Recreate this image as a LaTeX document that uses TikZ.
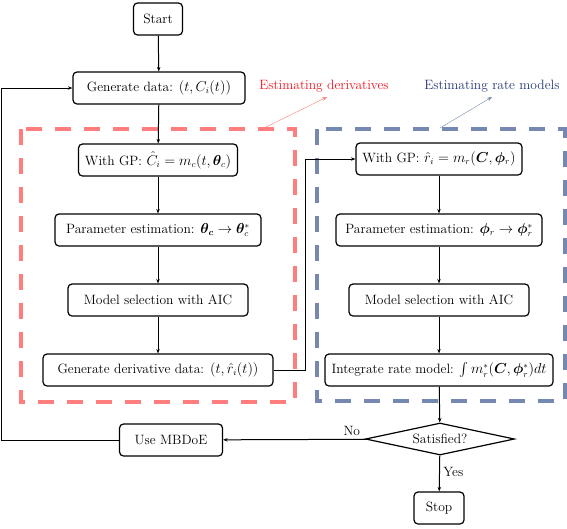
\documentclass[tikz,border=0pt]{standalone}
\usepackage{amsmath}
\usepackage{amsfonts}
\usepackage{amssymb}
\usepackage{bm}
\usepackage{tikz}
\usetikzlibrary {arrows.meta}
\usetikzlibrary{shapes.geometric}

\definecolor{derivred}{RGB}{255,125,125}
\definecolor{derivtext}{RGB}{250,20,30}
\definecolor{rateblue}{RGB}{118,135,178}
\definecolor{ratetext}{RGB}{35,55,115}

\begin{document}
\begin{tikzpicture}[x=1pt, y=-1pt, font=\fontsize{13.5}{15}\selectfont,
	proc/.style={draw, line width=1.2pt, rounded corners=4pt, inner sep=0pt, minimum height=32pt},
	arr/.style={-{Stealth[length=4.5pt, width=3.5pt]}, line width=1pt},
	groupbox/.style={line width=4pt, dash pattern=on 16pt off 13pt}]
	\useasboundingbox (0, 0) rectangle (567, 528);

	% dashed groups
	\draw[groupbox, derivred] (21, 129) rectangle (295, 402);
	\draw[groupbox, rateblue] (317, 129) rectangle (565, 401);

	\node[derivtext] (lblc) at (324, 86) {Estimating derivatives};
	\node[ratetext] (lblr) at (492, 86) {Estimating rate models};
	\coordinate (cfoot) at (262, 129);
	\coordinate (rfoot) at (440, 128);
	\draw[-{Stealth[length=5pt]}, derivred] (cfoot) -- (327, 97);
	\draw[-{Stealth[length=5pt]}, rateblue] (rfoot) -- (492, 97);

	% main column
	\node[proc, minimum width=49pt] (start) at (158, 19) {Start};
	\node[proc, minimum width=172pt] (gendata) at (159, 88) {Generate data: $(t, C_i(t))$};

	% left group
	\node[proc, minimum width=159pt] (gpc) at (158, 160) {With GP: $\hat{C}_i = m_c(t, \bm{\theta}_c)$};
	\node[proc, minimum width=206pt] (parc) at (158, 230) {Parameter estimation: $\bm{\theta_c} \rightarrow \bm{\theta}_c^*$};
	\node[proc, minimum width=180pt] (selc) at (158, 300) {Model selection with AIC};
	\node[proc, minimum width=230pt] (gend) at (158, 370) {Generate derivative data: $(t, \hat{r}_i(t))$};

	% right group
	\node[proc, minimum width=166pt] (gpr) at (439, 159) {With GP: $\hat{r}_i = m_r(\bm{C}, \bm{\phi}_r)$};
	\node[proc, minimum width=206pt] (parr) at (439, 230) {Parameter estimation: $\bm{\phi}_r \rightarrow \bm{\phi}_r^*$};
	\node[proc, minimum width=180pt] (selr) at (439, 300) {Model selection with AIC};
	\node[proc, minimum width=228pt] (integ) at (439, 370) {Integrate rate model: $\int m_r^*(\bm{C}, \bm{\phi}_r^*)dt$};

	% decision
	\node[draw, line width=1.2pt, diamond, aspect=4.6, inner sep=0pt, minimum width=149pt, minimum height=32pt] (sat) at (440, 439) {Satisfied?};
	\node[proc, minimum width=103pt] (mbdoe) at (171, 440) {Use MBDoE};
	\node[proc, minimum width=50pt] (stop) at (439, 508) {Stop};

	\draw[arr] (start) -- (gendata);
	\draw[arr] (gendata) -- (gpc);
	\draw[arr] (gpc) -- (parc);
	\draw[arr] (parc) -- (selc);
	\draw[arr] (selc) -- (gend);
	\draw[arr] (gend.east) -- ++(32, 0) |- (gpr.west);
	\draw[arr] (gpr) -- (parr);
	\draw[arr] (parr) -- (selr);
	\draw[arr] (selr) -- (integ);
	\draw[arr] (integ) -- (sat);
	\draw[arr] (sat) -- node[right, pos=0.45] {Yes} (stop);
	\draw[arr] (sat) -- node[above, pos=0.1] {No} (mbdoe);
	\draw[arr] (mbdoe.west) -- ++(-117, 0) |- (gendata.west);
\end{tikzpicture}
\end{document}
